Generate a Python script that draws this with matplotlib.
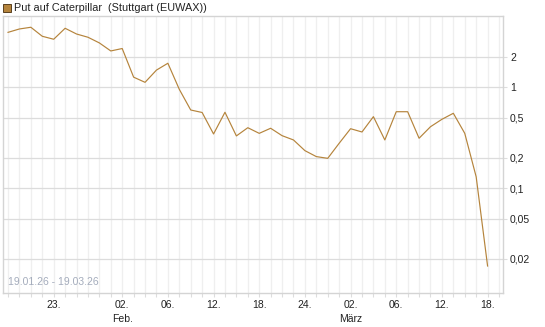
import matplotlib
matplotlib.use("Agg")
import matplotlib.pyplot as plt
import matplotlib.ticker as mticker
from matplotlib.patches import Rectangle
import pandas as pd

plt.rcParams['font.family'] = ['Liberation Sans', 'DejaVu Sans']

# trading days 19.01.26 - 19.03.26
days = pd.bdate_range('2026-01-19', '2026-03-19')
values = [3.50, 3.78, 3.93, 3.20, 2.99, 3.84, 3.37, 3.13, 2.75, 2.29,
          2.42, 1.26, 1.12, 1.48, 1.73, 0.955, 0.596, 0.563, 0.345, 0.566,
          0.330, 0.398, 0.350, 0.393, 0.332, 0.301, 0.236, 0.206, 0.198, 0.279,
          0.389, 0.361, 0.512, 0.301, 0.573, 0.573, 0.313, 0.407, 0.482, 0.553,
          0.350, 0.130, 0.0170]
ytick_vals = [2, 1, 0.5, 0.2, 0.1, 0.05, 0.02]
ytick_labels = ['2', '1', '0,5', '0,2', '0,1', '0,05', '0,02']
xtick_dates = ['2026-01-23', '2026-02-02', '2026-02-06', '2026-02-12', '2026-02-18',
               '2026-02-24', '2026-03-02', '2026-03-06', '2026-03-12', '2026-03-18']
xtick_labels = ['23.', '02.\nFeb.', '06.', '12.', '18.', '24.', '02.\nMärz', '06.', '12.', '18.']
series_name = 'Put auf Caterpillar  (Stuttgart (EUWAX))'
range_text = '19.01.26 - 19.03.26'

line_color = '#b5843c'
W, H = 545, 327
fig = plt.figure(figsize=(W / 100, H / 100), dpi=100)
ax = fig.add_axes([3 / W, 1 - 293 / H, 500 / W, 277 / H])

x = list(range(len(values)))
ax.plot(x, values, color=line_color, lw=0.85, solid_joinstyle='round')

ax.set_yscale('log')
ax.set_ylim(0.00919, 5.08)
ax.set_xlim(-0.44, 43.35)

# y axis on right
ax.yaxis.tick_right()
ax.yaxis.set_major_locator(mticker.FixedLocator(ytick_vals))
ax.yaxis.set_major_formatter(mticker.FixedFormatter(ytick_labels))
ax.yaxis.set_minor_locator(mticker.NullLocator())
ax.tick_params(axis='y', which='major', length=3, width=0.8, color='#dddddd',
               labelsize=7.5, pad=2, labelcolor='#222222')
ax.grid(axis='y', color='#dcdcdc', lw=0.9)

# x axis: every trading day gridline
day_index = {d.strftime('%Y-%m-%d'): i for i, d in enumerate(days)}
ax.set_xticks(range(len(days)), minor=True)
ax.set_xticks([day_index[d] for d in xtick_dates])
ax.set_xticklabels(xtick_labels, linespacing=1.45)
ax.tick_params(axis='x', which='both', length=3, width=0.8, color='#dddddd',
               labelsize=7.5, pad=2, labelcolor='#222222')
ax.grid(axis='x', which='both', color='#efefef', lw=0.9)
ax.set_axisbelow(True)

for s in ax.spines.values():
    s.set_color('#d4d4d4')
    s.set_linewidth(1.0)

ax.text(0.011, 0.022, range_text, transform=ax.transAxes, fontsize=7.5,
        color='#a4acbc', ha='left', va='bottom')

# legend
fig.patches.append(Rectangle((3 / W, 1 - 12 / H), 8 / W, 8 / H, transform=fig.transFigure,
                             facecolor=line_color, edgecolor='#5a4020', lw=0.7))
fig.text(14 / W, 1 - 8 / H, series_name, fontsize=7.8, color='#222222',
         ha='left', va='center')

fig.savefig('out.png', dpi=100)
